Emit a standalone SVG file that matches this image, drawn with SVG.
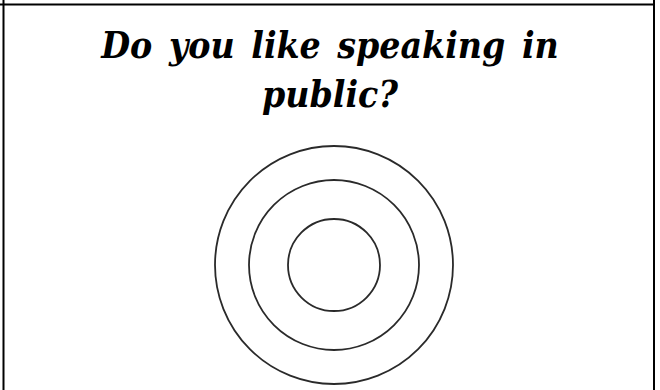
<svg xmlns="http://www.w3.org/2000/svg" width="660" height="390" viewBox="0 0 660 390">
<style>
.frame{stroke:#000;stroke-width:2;fill:none}
.ring{fill:none;stroke:#2a2a2a;stroke-width:1.8}
.title{font-family:"DejaVu Serif Condensed","DejaVu Serif",serif;font-stretch:condensed;font-weight:bold;font-style:italic;font-size:37px;word-spacing:5px;fill:#000;text-anchor:middle}
</style>
<rect width="660" height="390" fill="#fff"/>
<g id="frame">
<line class="frame" x1="0" y1="4.5" x2="655" y2="4.5"/>
<line class="frame" x1="3.5" y1="0" x2="3.5" y2="390"/>
<line class="frame" x1="654" y1="0" x2="654" y2="390"/>
</g>
<g id="title">
<text class="title" x="330" y="58">Do you like speaking in</text>
<text class="title" x="330" y="107">public?</text>
</g>
<g id="target">
<circle class="ring" cx="334" cy="265" r="119"/>
<circle class="ring" cx="334" cy="265" r="85"/>
<circle class="ring" cx="334" cy="265" r="46"/>
</g>
</svg>
